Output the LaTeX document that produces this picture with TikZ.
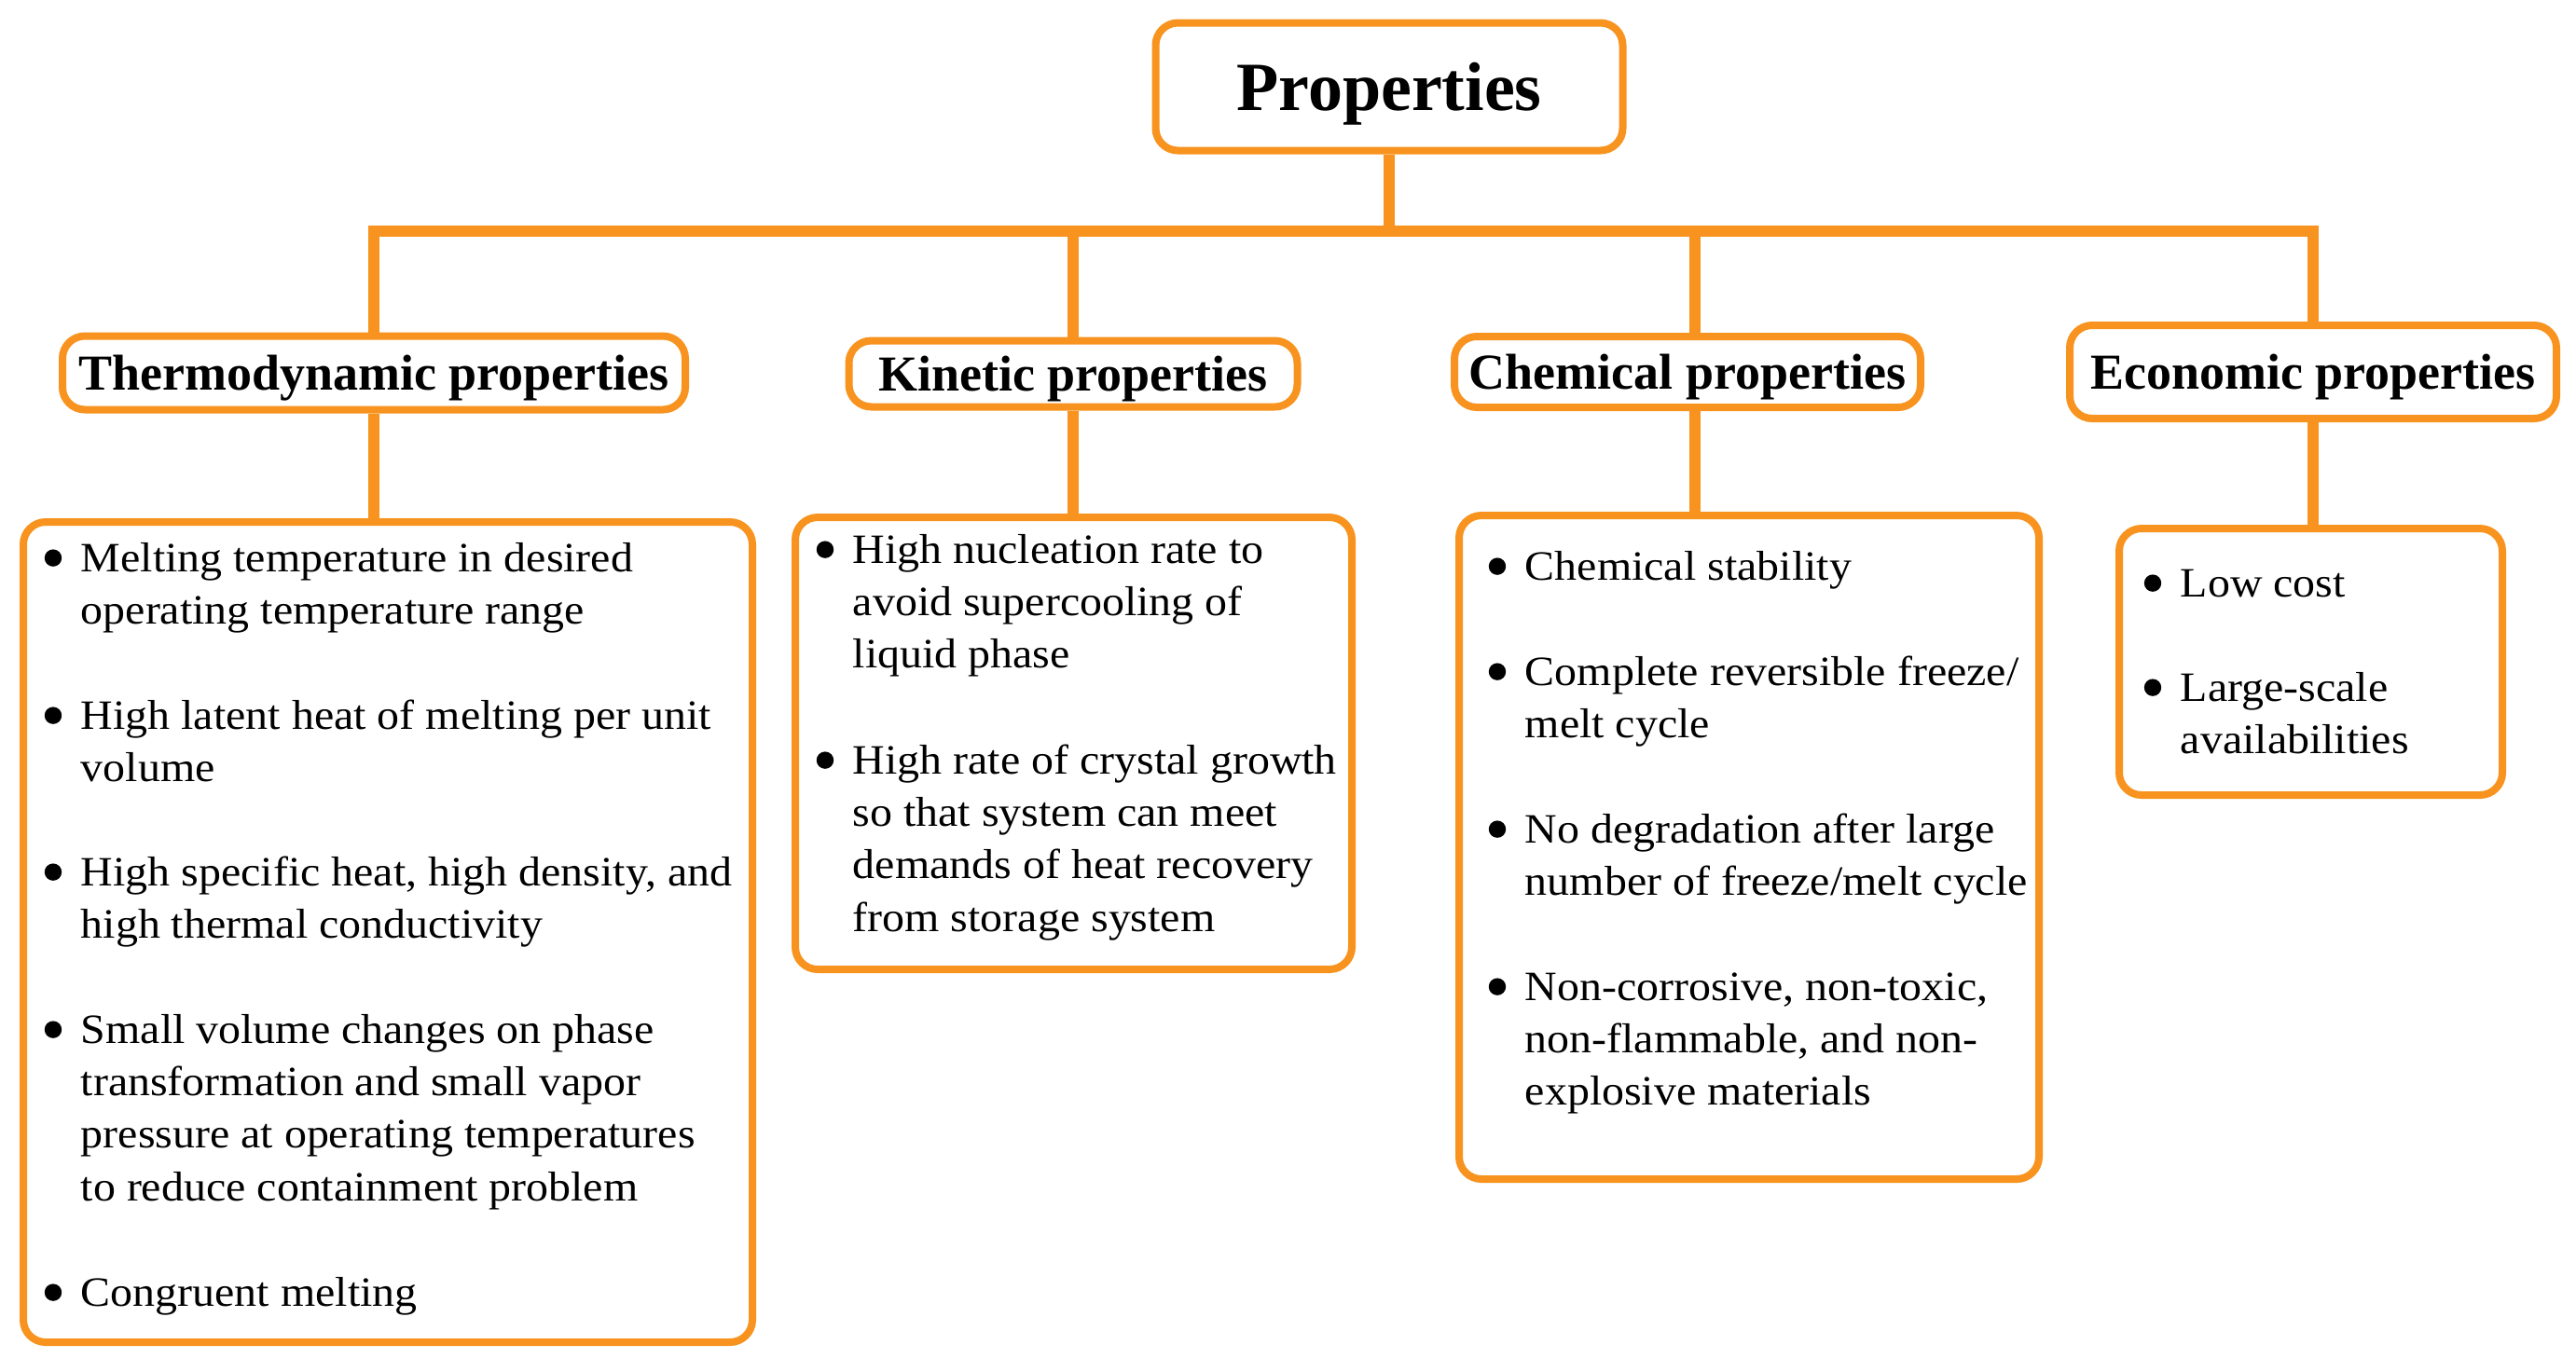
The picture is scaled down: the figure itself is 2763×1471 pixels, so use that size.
\documentclass[tikz,border=0pt]{standalone}
\usepackage{fontspec}
\setmainfont{Liberation Serif}
\newfontfamily\bodyfont{Liberation Serif}[FakeStretch=1.07]
\usetikzlibrary{backgrounds}
\definecolor{org}{HTML}{F7931E}
\tikzset{
  box/.style={draw=org, line width=2pt, rounded corners=6pt, fill=white, inner sep=0pt},
  conn/.style={draw=org, line width=3pt, line join=miter},
  item/.style={anchor=base west, inner sep=0pt, font=\bodyfont\fontsize{11.2}{14.1}\selectfont},
  head/.style={font=\fontsize{13.5}{15}\selectfont\bfseries, text depth=0pt},
}
\newcommand{\bul}[1]{\parbox[t]{250pt}{#1}}
\begin{document}
\begin{tikzpicture}[x=0.25pt,y=-0.25pt]
\useasboundingbox (0,0) rectangle (2763,1471);
% title
\node[box, minimum width=125.25pt, minimum height=34.25pt, text depth=0pt, font=\fontsize{18.5}{20}\selectfont\bfseries] (title) at (1490,93) {Properties};
% level 2
\node[box, head, minimum width=167pt, minimum height=19.75pt] (t2) at (401,400) {Thermodynamic properties};
\node[box, head, minimum width=120.25pt, minimum height=17.75pt] (k2) at (1151,401) {Kinetic properties};
\node[box, head, minimum width=125pt, minimum height=19pt] (c2) at (1810,399) {Chemical properties};
\node[box, head, minimum width=130.5pt, minimum height=25pt] (e2) at (2481,399) {Economic properties};
% level 3 boxes
\node[box, minimum width=195.5pt, minimum height=220pt] (t3) at (416,1000) {};
\node[box, minimum width=149.25pt, minimum height=121.25pt] (k3) at (1151.5,797.5) {};
\node[box, minimum width=155.5pt, minimum height=178pt] (c3) at (1876,909) {};
\node[box, minimum width=102.75pt, minimum height=71.5pt] (e3) at (2478.5,710) {};
% thermodynamic items
\node[item] (t3a) at (86,613) {\bul{Melting temperature in desired\\operating temperature range}};
\node[item] (t3b) at (86,782) {\bul{High latent heat of melting per unit\\volume}};
\node[item] (t3c) at (86,950) {\bul{High specific heat, high density, and\\high thermal conductivity}};
\node[item] (t3d) at (86,1119) {\bul{Small volume changes on phase\\transformation and small vapor\\pressure at operating temperatures\\to reduce containment problem}};
\node[item] (t3e) at (86,1401) {\bul{Congruent melting}};
% kinetic items
\node[item] (k3a) at (914,604) {\bul{High nucleation rate to\\avoid supercooling of\\liquid phase}};
\node[item] (k3b) at (914,830) {\bul{High rate of crystal growth\\so that system can meet\\demands of heat recovery\\from storage system}};
% chemical items
\node[item] (c3a) at (1635,622) {\bul{Chemical stability}};
\node[item] (c3b) at (1635,735) {\bul{Complete reversible freeze/\\melt cycle}};
\node[item] (c3c) at (1635,904) {\bul{No degradation after large\\number of freeze/melt cycle}};
\node[item] (c3d) at (1635,1073) {\bul{Non-corrosive, non-toxic,\\non-flammable, and non-\\explosive materials}};
% economic items
\node[item] (e3a) at (2338,640) {\bul{Low cost}};
\node[item] (e3b) at (2338,752) {\bul{Large-scale\\availabilities}};
% bullets
\foreach \n in {t3a,t3b,t3c,t3d,t3e,k3a,k3b,c3a,c3b,c3c,c3d,e3a,e3b}
  \fill ([xshift=-7.25pt,yshift=3.6pt]\n.base west) circle (2.3pt);
% connectors
\coordinate (bar) at (1490,248);
\coordinate (cx) at (1818,0);
\begin{pgfonlayer}{background}
\draw[conn] (title.south) -- (title.south |- bar);
\draw[conn] (t2.north) |- (bar) -| (e2.north);
\draw[conn] (k2.north) -- (k2.north |- bar);
\draw[conn] (c2.north -| cx) -- (cx |- bar);
\draw[conn] (t2.south) -- (t2.south |- t3.north);
\draw[conn] (k2.south) -- (k2.south |- k3.north);
\draw[conn] (c2.south -| cx) -- (cx |- c3.north);
\draw[conn] (e2.south) -- (e2.south |- e3.north);
\end{pgfonlayer}
\end{tikzpicture}
\end{document}
